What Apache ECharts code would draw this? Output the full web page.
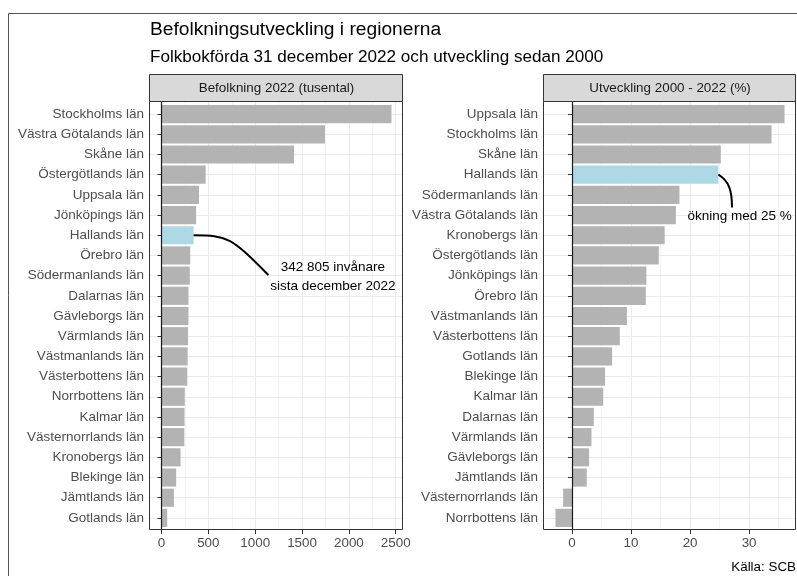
<!DOCTYPE html>
<html>
<head>
<meta charset="utf-8">
<title>Befolkningsutveckling i regionerna</title>
<script src="https://cdn.jsdelivr.net/npm/echarts@6/dist/echarts.min.js"></script>
<style>
  html, body { margin: 0; padding: 0; background: #fff; }
  #chart { width: 797px; height: 576px; }
</style>
</head>
<body>
<div id="chart"></div>
<script>
// Folkbokförda 31 dec 2022, tusental (sorterat)
const popRegions = [
  'Stockholms län', 'Västra Götalands län', 'Skåne län', 'Östergötlands län', 'Uppsala län',
  'Jönköpings län', 'Hallands län', 'Örebro län', 'Södermanlands län', 'Dalarnas län',
  'Gävleborgs län', 'Värmlands län', 'Västmanlands län', 'Västerbottens län', 'Norrbottens län',
  'Kalmar län', 'Västernorrlands län', 'Kronobergs län', 'Blekinge län', 'Jämtlands län', 'Gotlands län'
]
const popValues = [
  2454.8, 1744.9, 1414.4, 471.0, 399.9,
  369.3, 342.8, 306.8, 301.8, 288.4,
  287.8, 283.2, 279.3, 275.4, 248.5,
  246.0, 243.6, 203.7, 156.4, 132.1, 61.0
]

// utveckling 2000 - 2022, procent
const growthRegions = [
  'Uppsala län', 'Stockholms län', 'Skåne län', 'Hallands län', 'Södermanlands län',
  'Västra Götalands län', 'Kronobergs län', 'Östergötlands län', 'Jönköpings län', 'Örebro län',
  'Västmanlands län', 'Västerbottens län', 'Gotlands län', 'Blekinge län', 'Kalmar län',
  'Dalarnas län', 'Värmlands län', 'Gävleborgs län', 'Jämtlands län', 'Västernorrlands län', 'Norrbottens län'
]
const growthValues = [
  36.0, 33.8, 25.2, 24.8, 18.2,
  17.6, 15.7, 14.7, 12.6, 12.5,
  9.3, 8.1, 6.8, 5.6, 5.3,
  3.7, 3.3, 2.9, 2.5, -1.5, -2.8
]

const popTicks = [0, 500, 1000, 1500, 2000, 2500]
const popMinorTicks = [250, 750, 1250, 1750, 2250]
const growthTicks = [0, 10, 20, 30]
const growthMinorTicks = [5, 15, 25, 35]

const highlight = 'Hallands län'
const popNote = '342 805 invånare\nsista december 2022'
const growthNote = 'ökning med 25 %'

// anteckningarnas ankarpunkter i datakoordinater (värde, radindex)
const popNoteEnd = [1140, 7.97]
const popNoteText = [1830, 8.07]
const growthNoteEnd = [27.1, 4.62]
const growthNoteText = [28.4, 5.08]

const FONT = '"Liberation Sans", Arial, sans-serif'
const GREY = '#B3B3B3'
const BLUE = '#ADD8E6'
const GRIDLINE = '#EBEBEB'
const DARK = '#333333'
const TEXT = '#4D4D4D'

const PANEL_TOP = 102
const PANEL_BOTTOM = 530
const STRIP_TOP = 75

const panels = [
  { title: 'Befolkning 2022 (tusental)', left: 150, right: 403, regions: popRegions, values: popValues, ticks: popTicks, minor: popMinorTicks },
  { title: 'Utveckling 2000 - 2022 (%)', left: 544, right: 796, regions: growthRegions, values: growthValues, ticks: growthTicks, minor: growthMinorTicks }
]

// ggplot-liknande expansion: 5 % på var sida
function limits(vals) {
  const lo = Math.min(0, ...vals)
  const hi = Math.max(0, ...vals)
  const pad = (hi - lo) * 0.05
  return [lo - pad, hi + pad]
}

const grid = []
const xAxis = []
const yAxis = []
const series = []

panels.forEach((p, k) => {
  const n = p.regions.length
  const band = (PANEL_BOTTOM - PANEL_TOP) / (n - 1 + 1.2)
  const [xmin, xmax] = limits(p.values)
  const width = p.right - p.left

  // yttre ruta: vertikala stödlinjer, x-axel, nollinje
  grid.push({ left: p.left, width: width, top: PANEL_TOP, height: PANEL_BOTTOM - PANEL_TOP, show: false })
  // inre ruta: staplar och kategorier
  grid.push({ left: p.left, width: width, top: PANEL_TOP + 0.6 * band, height: (n - 1) * band, show: false })

  const go = 2 * k, gi = 2 * k + 1
  xAxis.push({
    type: 'value', gridIndex: go, min: xmin, max: xmax, position: 'bottom',
    axisLine: { show: false, onZero: false },
    axisTick: { show: true, length: 4, customValues: p.ticks, lineStyle: { color: DARK, width: 1 } },
    axisLabel: { show: true, customValues: p.ticks, margin: 7, color: TEXT, fontSize: 13.4, fontFamily: FONT,
      formatter: v => String(v) },
    splitLine: { show: true, lineStyle: { color: GRIDLINE, width: 1 } }
  })
  xAxis.push({
    type: 'value', gridIndex: go, min: xmin, max: xmax, position: 'bottom',
    axisLine: { show: false, onZero: false },
    axisTick: { show: false, customValues: p.minor },
    axisLabel: { show: false },
    splitLine: { show: true, lineStyle: { color: GRIDLINE, width: 0.6 } }
  })
  xAxis.push({
    type: 'value', gridIndex: gi, min: xmin, max: xmax,
    axisLine: { show: false, onZero: false }, axisTick: { show: false },
    axisLabel: { show: false }, splitLine: { show: false }
  })

  yAxis.push({
    type: 'value', gridIndex: go, min: -0.6, max: n - 1 + 0.6, inverse: true, z: 4,
    axisLine: { show: true, onZero: true, onZeroAxisIndex: 3 * k, lineStyle: { color: '#1A1A1A', width: 1.2 } },
    axisTick: { show: false }, axisLabel: { show: false }, splitLine: { show: false }
  })
  yAxis.push({
    type: 'category', gridIndex: gi, data: p.regions, inverse: true, boundaryGap: false,
    axisLine: { show: false },
    axisTick: { show: true, length: 4, interval: 0, lineStyle: { color: DARK, width: 1 } },
    axisLabel: { interval: 0, margin: 6, color: TEXT, fontSize: 13.5, fontFamily: FONT },
    splitLine: { show: true, interval: 0, lineStyle: { color: GRIDLINE, width: 1 } }
  })

  series.push({
    type: 'bar', xAxisIndex: 3 * k + 2, yAxisIndex: gi,
    barWidth: 0.9 * band,
    silent: true,
    data: p.values.map((v, i) => ({
      value: v,
      itemStyle: { color: p.regions[i] === highlight ? BLUE : GREY }
    }))
  })
})

const chart = echarts.init(document.getElementById('chart'), null, { renderer: 'canvas' })

chart.setOption({
  animation: false,
  backgroundColor: '#ffffff',
  textStyle: { fontFamily: FONT },
  title: [
    { text: 'Befolkningsutveckling i regionerna', left: 150, top: 20, padding: 0,
      textStyle: { fontSize: 19.2, fontWeight: 'normal', color: '#000', fontFamily: FONT } },
    { text: 'Folkbokförda 31 december 2022 och utveckling sedan 2000', left: 150, top: 49, padding: 0,
      textStyle: { fontSize: 17.1, fontWeight: 'normal', color: '#000', fontFamily: FONT } },
    { text: 'Källa: SCB', right: 1, top: 561, padding: 0,
      textStyle: { fontSize: 13.4, fontWeight: 'normal', color: '#000', fontFamily: FONT } }
  ],
  grid, xAxis, yAxis, series
})

// ramar, rubrikremsor och anteckningar
const graphic = [{
  type: 'rect', z: 20, silent: true,
  shape: { x: 8.5, y: 13.5, width: 900, height: 700 },
  style: { fill: 'none', stroke: '#555555', lineWidth: 1 }
}]

panels.forEach(p => {
  const width = p.right - p.left
  graphic.push({
    type: 'rect', z: 20, silent: true,
    shape: { x: p.left - 0.5, y: PANEL_TOP - 0.5, width: width, height: PANEL_BOTTOM - PANEL_TOP },
    style: { fill: 'none', stroke: DARK, lineWidth: 1 }
  })
  graphic.push({
    type: 'rect', z: 20, silent: true,
    shape: { x: p.left - 0.5, y: STRIP_TOP - 0.5, width: width, height: PANEL_TOP - STRIP_TOP },
    style: { fill: '#D9D9D9', stroke: DARK, lineWidth: 1 }
  })
  graphic.push({
    type: 'text', z: 21, silent: true,
    x: p.left + width / 2, y: (STRIP_TOP + PANEL_TOP) / 2,
    style: { text: p.title, fill: '#1A1A1A', font: '13.4px ' + FONT, align: 'center', verticalAlign: 'middle' }
  })
})

function curve(k, from, to, shape) {
  const a = chart.convertToPixel({ xAxisIndex: 3 * k, yAxisIndex: 2 * k }, from)
  const b = chart.convertToPixel({ xAxisIndex: 3 * k, yAxisIndex: 2 * k }, to)
  const dx = b[0] - a[0], dy = b[1] - a[1]
  const c = shape(a, b, dx, dy)
  return {
    type: 'bezierCurve', z: 22, silent: true,
    shape: { x1: a[0], y1: a[1], x2: b[0], y2: b[1], cpx1: c[0], cpy1: c[1], cpx2: c[2], cpy2: c[3] },
    style: { stroke: '#000', lineWidth: 2, fill: 'none' }
  }
}

function note(k, at, text) {
  const a = chart.convertToPixel({ xAxisIndex: 3 * k, yAxisIndex: 2 * k }, at)
  return {
    type: 'text', z: 22, silent: true, x: a[0], y: a[1],
    style: { text: text, fill: '#000', font: '13.5px ' + FONT, align: 'center', verticalAlign: 'middle', lineHeight: 19 }
  }
}

const hPop = popRegions.indexOf(highlight)
const hGrowth = growthRegions.indexOf(highlight)

graphic.push(curve(0, [popValues[hPop], hPop], popNoteEnd,
  (a, b, dx, dy) => [a[0] + 0.45 * dx, a[1], a[0] + 0.5 * dx, a[1] + 0.05 * dy]))
graphic.push(note(0, popNoteText, popNote))

graphic.push(curve(1, [growthValues[hGrowth], hGrowth], growthNoteEnd,
  (a, b, dx, dy) => [a[0] + 0.8 * dx, a[1] + 0.2 * dy, b[0], a[1] + 0.5 * dy]))
graphic.push(note(1, growthNoteText, growthNote))

chart.setOption({ graphic })
</script>
</body>
</html>
